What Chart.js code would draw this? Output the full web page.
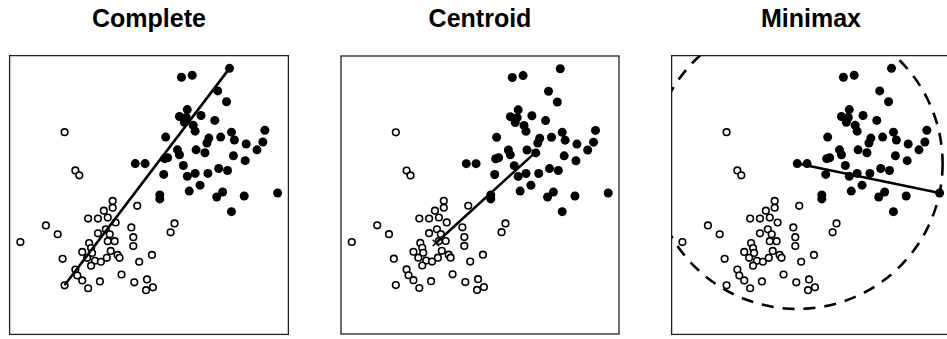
<!DOCTYPE html>
<html>
<head>
<meta charset="utf-8">
<script src="https://cdn.jsdelivr.net/npm/chart.js@4/dist/chart.umd.min.js"></script>
<style>
html, body { margin: 0; padding: 0; background: #fff; width: 947px; height: 339px; overflow: hidden; }
.panel { position: absolute; top: 50px; }
.title { position: absolute; top: 6px; width: 284px; text-align: center; color: #000;
         font: bold 25px "Liberation Sans", Arial, sans-serif; line-height: 25px; }
</style>
</head>
<body>
<div class="title" style="left:7px">Complete</div>
<div class="title" style="left:338px">Centroid</div>
<div class="title" style="left:669px">Minimax</div>
<canvas id="completeChart" class="panel" width="290" height="290" style="left:4px"></canvas>
<canvas id="centroidChart" class="panel" width="290" height="290" style="left:335px"></canvas>
<canvas id="minimaxChart" class="panel" width="290" height="290" style="left:666px"></canvas>
<script>
// same 99 points in every panel; units are box fractions (0..284)
const filledPoints = [
  [224,271],[175,262],[186,264],[212,248],[221,237],[181,229],[173,222],[178,216],[180,221],[187,213],
  [195,223],[209,218],[189,207],[226,206],[260,208],[159,201],[203,200],[215,201],[229,198],[201,195],
  [241,194],[258,196],[252,188],[171,188],[173,183],[190,188],[199,185],[228,182],[158,179],[161,180],
  [240,177],[128,174],[138,174],[177,172],[213,169],[222,167],[157,163],[181,161],[189,164],[202,164],
  [194,152],[183,146],[153,142],[153,138],[211,140],[217,145],[239,141],[273,144],[226,125]
];
const openPoints = [
  [56,206],[67,167],[71,162],[105,136],[105,129],[130,131],[96,126],[100,119],[80,118],[90,118],
  [108,114],[37,111],[49,102],[90,103],[98,107],[102,102],[124,109],[126,99],[126,90],[168,113],
  [164,104],[11,94],[81,93],[100,95],[107,95],[83,88],[74,84],[84,83],[79,78],[87,75],
  [93,74],[99,78],[103,85],[110,81],[112,78],[132,74],[145,81],[54,77],[83,70],[67,66],
  [69,60],[74,55],[56,50],[80,47],[92,54],[114,61],[127,53],[140,56],[139,45],[146,48]
];

const completeSegment = [[56,50],[224,271]];
const centroidSegment = [[97,93],[198,185]];
const minimaxCenter = [128,174];
const minimaxFarthest = [273,144];

const axisMin = 0, axisMax = 284;

const toXY = pts => pts.map(p => ({ x: p[0], y: p[1] }));

const frame = {
    id: 'frame',
    afterDraw(chart) {
        const a = chart.chartArea, ctx = chart.ctx;
        ctx.save();
        ctx.strokeStyle = '#222';
        ctx.lineWidth = 1.3;
        ctx.strokeRect(a.left, a.top, a.right - a.left, a.bottom - a.top);
        ctx.restore();
    }
};

const dashedCircle = {
    id: 'dashedCircle',
    beforeDatasetsDraw(chart) {
        const x = chart.scales.x, y = chart.scales.y, a = chart.chartArea, ctx = chart.ctx;
        const cx = x.getPixelForValue(minimaxCenter[0]), cy = y.getPixelForValue(minimaxCenter[1]);
        const fx = x.getPixelForValue(minimaxFarthest[0]), fy = y.getPixelForValue(minimaxFarthest[1]);
        const r = Math.hypot(fx - cx, fy - cy);
        ctx.save();
        ctx.beginPath();
        ctx.rect(a.left, a.top, a.right - a.left, a.bottom - a.top);
        ctx.clip();
        ctx.beginPath();
        ctx.setLineDash([12, 9]);
        ctx.lineWidth = 2.6;
        ctx.strokeStyle = '#000';
        ctx.arc(cx, cy, r, 0, Math.PI * 2);
        ctx.stroke();
        ctx.restore();
    }
};

function segmentSet(seg) {
    return { data: toXY(seg), showLine: true, borderColor: '#000', borderWidth: 2.6, pointRadius: 0 };
}

function makePanel(id, extraSets, extraPlugins) {
    return new Chart(document.getElementById(id), {
        type: 'scatter',
        data: {
            datasets: [
                ...extraSets,
                { data: toXY(filledPoints), pointRadius: 4.5, pointBackgroundColor: '#000', pointBorderWidth: 0, borderColor: '#000' },
                { data: toXY(openPoints), pointRadius: 3.3, pointBackgroundColor: '#fff', pointBorderColor: '#000', pointBorderWidth: 1.6 }
            ]
        },
        options: {
            responsive: false,
            animation: false,
            events: [],
            layout: { padding: 3 },
            plugins: { legend: { display: false }, tooltip: { enabled: false } },
            scales: {
                x: { display: false, min: axisMin, max: axisMax },
                y: { display: false, min: axisMin, max: axisMax }
            }
        },
        plugins: [frame, ...extraPlugins]
    });
}

makePanel('completeChart', [segmentSet(completeSegment)], []);
makePanel('centroidChart', [
    segmentSet(centroidSegment),
    { data: toXY(centroidSegment), pointStyle: 'crossRot', pointRadius: 4.5, pointBorderWidth: 1.5, pointBorderColor: '#000', pointBackgroundColor: '#000' }
], []);
makePanel('minimaxChart', [segmentSet([minimaxCenter, minimaxFarthest])], [dashedCircle]);
</script>
</body>
</html>
